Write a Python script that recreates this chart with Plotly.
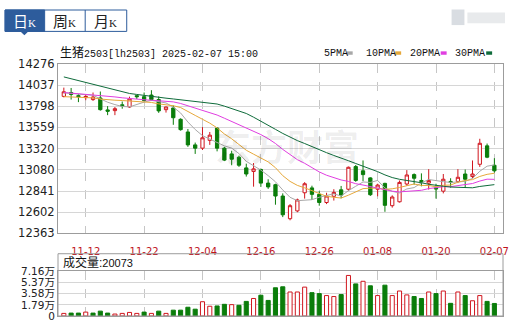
import plotly.graph_objects as go

# ---------------- data ----------------
dates = [
    "2024-11-07", "2024-11-08", "2024-11-11", "2024-11-12", "2024-11-13", "2024-11-14", "2024-11-15",
    "2024-11-18", "2024-11-19", "2024-11-20", "2024-11-21", "2024-11-22", "2024-11-25", "2024-11-26",
    "2024-11-27", "2024-11-28", "2024-11-29", "2024-12-02", "2024-12-03", "2024-12-04", "2024-12-05",
    "2024-12-06", "2024-12-09", "2024-12-10", "2024-12-11", "2024-12-12", "2024-12-13", "2024-12-16",
    "2024-12-17", "2024-12-18", "2024-12-19", "2024-12-20", "2024-12-23", "2024-12-24", "2024-12-25",
    "2024-12-26", "2024-12-27", "2024-12-30", "2024-12-31", "2025-01-02", "2025-01-03", "2025-01-06",
    "2025-01-07", "2025-01-08", "2025-01-09", "2025-01-10", "2025-01-13", "2025-01-14", "2025-01-15",
    "2025-01-16", "2025-01-17", "2025-01-20", "2025-01-21", "2025-01-22", "2025-01-23", "2025-01-24",
    "2025-01-27", "2025-02-05", "2025-02-06", "2025-02-07",
]
opens = [13910, 13954, 13918, 13896, 13874, 13892, 13757, 13749, 13815, 13790,
         13918, 13907, 13925, 13874, 13760, 13779, 13651, 13508, 13362, 13325,
         13413, 13552, 13325, 13260, 13223, 13102, 13062, 13084, 12930, 12912,
         12784, 12528, 12616, 12821, 12876, 12803, 12711, 12781, 12854, 12861,
         13117, 13069, 12989, 12861, 12927, 12675, 12719, 12920, 13026, 12960,
         12930, 12876, 12839, 12949, 12949, 13033, 13004, 13143, 13351, 13132]
highs = [14009, 14005, 13936, 13936, 13954, 13965, 13800, 13790, 13852, 13907,
         13925, 13954, 13980, 13910, 13795, 13808, 13662, 13541, 13388, 13563,
         13508, 13563, 13340, 13296, 13241, 13150, 13157, 13095, 12974, 12923,
         12814, 12693, 12755, 12941, 12901, 12839, 12821, 12861, 12898, 13117,
         13135, 13186, 12996, 12923, 12934, 12792, 12960, 13077, 13040, 13040,
         13088, 12923, 13033, 12985, 13088, 13084, 13186, 13431, 13377, 13212]
lows = [13899, 13874, 13845, 13867, 13859, 13749, 13698, 13698, 13771, 13779,
        13881, 13852, 13863, 13724, 13727, 13589, 13523, 13340, 13260, 13304,
        13362, 13289, 13179, 13132, 13113, 13004, 12890, 12887, 12865, 12686,
        12546, 12510, 12601, 12755, 12740, 12675, 12693, 12733, 12759, 12843,
        12945, 12952, 12785, 12781, 12606, 12653, 12711, 12901, 12912, 12894,
        12857, 12755, 12814, 12879, 12930, 12876, 12985, 13113, 13212, 13048]
closes = [13962, 13932, 13907, 13910, 13903, 13760, 13742, 13771, 13804, 13881,
          13907, 13863, 13874, 13746, 13790, 13669, 13534, 13362, 13325, 13442,
          13472, 13325, 13190, 13200, 13132, 13033, 13091, 12930, 12887, 12784,
          12572, 12675, 12740, 12923, 12803, 12711, 12784, 12825, 12795, 13109,
          12960, 13026, 12799, 12908, 12679, 12773, 12938, 13022, 12985, 12949,
          12960, 12865, 12974, 12938, 12996, 12974, 13033, 13380, 13223, 13069]
volumes = [4150, 4670, 4670, 6230, 4670, 7790, 4670, 3110, 4150, 5710,
           4150, 6230, 4150, 7790, 4150, 9340, 9340, 14010, 10900, 22840,
           15570, 16090, 18680, 18170, 17130, 23360, 28030, 33220, 24910, 45150,
           46710, 38410, 38410, 46190, 37370, 35810, 32700, 31140, 34250, 64880,
           51380, 55530, 48270, 32700, 49300, 32700, 39960, 33740, 31140, 28030,
           38410, 35810, 39960, 20240, 38410, 32700, 24390, 32700, 23360, 20073]

# moving-average values on the first days (their windows start before the chart)
ma5_head = [13950, 13942, 13935, 13930]
ma10_head = [13907, 13905, 13902, 13898, 13893, 13880, 13870, 13867, 13863]
ma20_head = [13954, 13948, 13942, 13936, 13930, 13924, 13914, 13904, 13894, 13884,
             13877, 13872, 13867, 13862, 13856, 13848, 13830, 13805, 13780]
ma30_head = [14130, 14109, 14088, 14067, 14046, 14025, 14004, 13983, 13962, 13943,
             13932, 13920, 13909, 13899, 13890, 13881, 13871, 13861, 13851, 13841,
             13833, 13824, 13800, 13772, 13745, 13717, 13675, 13632, 13589]

tick_dates = ["2024-11-12", "2024-11-22", "2024-12-04", "2024-12-16",
              "2024-12-26", "2025-01-08", "2025-01-20", "2025-02-07"]
tick_labels = ["11-12", "11-22", "12-04", "12-16", "12-26", "01-08", "01-20", "02-07"]
price_ticks = [12363, 12602, 12841, 13080, 13320, 13559, 13798, 14037, 14276]
vol_ticks = [0, 17900, 35800, 53700, 71600]
vol_tick_labels = ["0", "1.79万", "3.58万", "5.37万", "7.16万"]
ma_names = ["5PMA", "10PMA", "20PMA", "30PMA"]
ma_windows = [5, 10, 20, 30]
ma_heads = [ma5_head, ma10_head, ma20_head, ma30_head]
title_name = "生猪"
title_rest = "2503[lh2503] 2025-02-07 15:00"
vol_title = "成交量"

# ---------------- styles ----------------
RED = "#d0161e"
GREEN = "#0a7d0a"
MA_COLORS = ["#a8a8a8", "#e6a83a", "#e03ee0", "#0e6b3a"]
FRAME = "#9c9c9c"
GRID = "#d6d6d6"
VGRID = "#c6c6c6"
TAB = "#2d5c9c"

W, H = 515, 329
L, R, T, B = 58, 508, 64, 323


def px(x):
    return (x - L) / (R - L)


def py(y):
    return (B - y) / (B - T)


def moving_average(head, n):
    out = list(head)
    for i in range(n - 1, len(closes)):
        out.append(sum(closes[i - n + 1:i + 1]) / n)
    return out


fig = go.Figure()

fig.add_trace(go.Candlestick(
    x=dates, open=opens, high=highs, low=lows, close=closes,
    increasing=dict(line=dict(color=RED, width=1), fillcolor="white"),
    decreasing=dict(line=dict(color=GREEN, width=1), fillcolor=GREEN),
    whiskerwidth=0, xaxis="x", yaxis="y", showlegend=False, hoverinfo="skip",
))

for name, n, head, col in zip(ma_names, ma_windows, ma_heads, MA_COLORS):
    fig.add_trace(go.Scatter(
        x=dates, y=moving_average(head, n), mode="lines", name=name,
        line=dict(color=col, width=1), xaxis="x", yaxis="y",
        showlegend=False, hoverinfo="skip",
    ))

up = []
for i in range(len(closes)):
    ref = closes[i - 1] if i > 0 else opens[i]
    up.append(closes[i] >= ref)
fig.add_trace(go.Bar(
    x=dates, y=volumes, width=0.56,
    marker=dict(color=["white" if u else GREEN for u in up],
                line=dict(color=[RED if u else GREEN for u in up], width=1)),
    xaxis="x2", yaxis="y2", showlegend=False, hoverinfo="skip",
))

n_days = len(dates)
xr = [-0.8, n_days - 1 + 1.18]
common_x = dict(
    type="category", range=xr, tickvals=tick_dates, ticktext=tick_labels,
    showgrid=True, gridcolor=VGRID, griddash="dash", gridwidth=1,
    showline=True, mirror=True, linecolor=FRAME, linewidth=1,
    ticks="", zeroline=False, fixedrange=True,
)
fig.update_layout(
    width=W, height=H,
    margin=dict(l=L, r=W - R, t=T, b=H - B, pad=0),
    paper_bgcolor="white", plot_bgcolor="white",
    boxgap=0.36,
    xaxis=dict(**common_x, anchor="y", rangeslider=dict(visible=False),
               tickfont=dict(family="DejaVu Sans", size=10, color="#c0141c"),
               ticklabelstandoff=9),
    xaxis2=dict(**common_x, anchor="y2", matches="x", showticklabels=False),
    yaxis=dict(domain=[py(238), 1.0], range=[price_ticks[0], price_ticks[-1]],
               tickvals=price_ticks, ticktext=[str(v) for v in price_ticks],
               showgrid=True, gridcolor=GRID, gridwidth=1,
               showline=True, mirror=True, linecolor=FRAME, linewidth=1,
               ticks="", zeroline=False, fixedrange=True,
               tickfont=dict(family="DejaVu Sans", size=11.5, color="#222222")),
    yaxis2=dict(domain=[0.0, py(277)], range=[vol_ticks[0], vol_ticks[-1]],
                tickvals=vol_ticks, ticktext=vol_tick_labels,
                showgrid=True, gridcolor=GRID, gridwidth=1,
                showline=True, mirror=True, linecolor=FRAME, linewidth=1,
                ticks="", zeroline=False, fixedrange=True,
                tickfont=dict(family="DejaVu Sans, Noto Sans CJK SC", size=10.5, color="#222222")),
)

shapes = []
# volume header box
shapes.append(dict(type="rect", xref="paper", yref="paper",
                   x0=px(L), x1=px(R), y0=py(323), y1=py(259),
                   line=dict(color=FRAME, width=1), fillcolor="rgba(0,0,0,0)"))
# tabs
shapes.append(dict(type="rect", xref="paper", yref="paper",
                   x0=px(4.5), x1=px(127.5), y0=py(30.5), y1=py(8.5),
                   line=dict(color=TAB, width=1), fillcolor="white"))
shapes.append(dict(type="rect", xref="paper", yref="paper",
                   x0=px(4.5), x1=px(44.5), y0=py(30.5), y1=py(8.5),
                   line=dict(color=TAB, width=1), fillcolor=TAB))
shapes.append(dict(type="line", xref="paper", yref="paper",
                   x0=px(85.5), x1=px(85.5), y0=py(30.5), y1=py(8.5),
                   line=dict(color=TAB, width=1)))
tri = "M {:.5f},{:.5f} L {:.5f},{:.5f} L {:.5f},{:.5f} Z".format(
    px(19.5), py(30), px(28.5), py(30), px(24), py(34.5))
shapes.append(dict(type="path", xref="paper", yref="paper", path=tri,
                   line=dict(color=TAB, width=0), fillcolor=TAB))
# blurred logo at top right
shapes.append(dict(type="rect", xref="paper", yref="paper",
                   x0=px(456), x1=px(469), y0=py(24), y1=py(8),
                   line=dict(width=0), fillcolor="#d9dde2"))
shapes.append(dict(type="rect", xref="paper", yref="paper",
                   x0=px(472), x1=px(510), y0=py(22), y1=py(11),
                   line=dict(width=0), fillcolor="#e8eaec"))
# legend colour dashes
dash_x = [(350, 356), (399, 405), (445, 451), (491, 497)]
for (a, b), col in zip(dash_x, MA_COLORS):
    shapes.append(dict(type="rect", xref="paper", yref="paper",
                       x0=px(a), x1=px(b), y0=py(54.5), y1=py(51),
                       line=dict(width=0), fillcolor=col))
fig.update_layout(shapes=shapes)

ann = []
mono = "Liberation Mono, Noto Sans CJK SC"
ann.append(dict(xref="paper", yref="paper", x=px(58), y=py(53), xanchor="left", yanchor="middle",
                text='<span style="font-size:12px">' + title_name + '</span>' + title_rest,
                showarrow=False, font=dict(family=mono, size=10, color="#111111")))
leg_x = [325, 367, 412, 457]
for name, x in zip(ma_names, leg_x):
    ann.append(dict(xref="paper", yref="paper", x=px(x), y=py(53), xanchor="left", yanchor="middle",
                    text=name, showarrow=False, font=dict(family=mono, size=10, color="#111111")))
ann.append(dict(xref="paper", yref="paper", x=px(61), y=py(268), xanchor="left", yanchor="middle",
                text=vol_title + ':<span style="font-size:11px">' + str(volumes[-1]) + '</span>',
                showarrow=False,
                font=dict(family="Liberation Sans, Noto Sans CJK SC", size=12, color="#111111")))
tab_txt = [("日", 24, "white"), ("周", 64.5, "#222222"), ("月", 106, "#222222")]
for ch, x, col in tab_txt:
    ann.append(dict(xref="paper", yref="paper", x=px(x), y=py(19.5), xanchor="center", yanchor="middle",
                    text=ch + '<span style="font-size:11px;font-family:Liberation Serif">K</span>',
                    showarrow=False, font=dict(family="Noto Sans CJK SC", size=15, color=col)))
# faint watermark
ann.append(dict(xref="paper", yref="paper", x=px(290), y=py(147), xanchor="center", yanchor="middle",
                text="<b>东方财富</b>", showarrow=False,
                font=dict(family="Noto Sans CJK SC", size=36, color="rgba(0,0,0,0.07)")))
fig.update_layout(annotations=ann)

fig.write_html("out.html")
